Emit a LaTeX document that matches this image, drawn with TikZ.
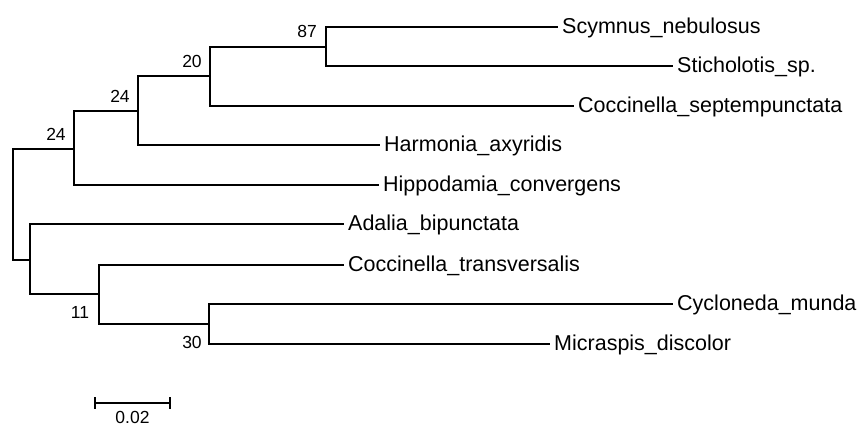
\documentclass[tikz,border=0pt]{standalone}
\usepackage{fontspec}
\setmainfont{Liberation Sans}
\usetikzlibrary{positioning, calc}

\begin{document}
\begin{tikzpicture}[
    x=1pt, y=-1pt, % one unit = one pixel, y grows downward
    branch/.style={line width=1.3pt, line cap=rect}, % tree branches
    leaf/.style={anchor=west, inner xsep=5pt, inner ysep=0pt, text height=16pt, text depth=4pt,
                 font=\fontsize{21.5}{24}\selectfont}, % taxon names
    boot/.style={inner sep=0pt, font=\fontsize{17.5}{20}\selectfont} % bootstrap values
]
    \useasboundingbox (0,0) rectangle (857,426);

    % Internal nodes (x = node depth, y = where the parent branch joins)
    \coordinate (root) at (13,204);
    \coordinate (cA) at (74,149);
    \coordinate (cB) at (138,111);
    \coordinate (cC) at (210,76);
    \coordinate (cD) at (326,47);
    \coordinate (cE) at (30,260);
    \coordinate (cF) at (99,294);
    \coordinate (cG) at (209,324);

    % Taxa
    \node[leaf] (scym)   at (557,27)  {Scymnus\_nebulosus};
    \node[leaf] (stich)  at (672,66)  {Sticholotis\_sp.};
    \node[leaf] (csep)   at (573,106) {Coccinella\_septempunctata};
    \node[leaf] (harm)   at (379,145) {Harmonia\_axyridis};
    \node[leaf] (hippo)  at (378,185) {Hippodamia\_convergens};
    \node[leaf] (adalia) at (343,224) {Adalia\_bipunctata};
    \node[leaf] (ctrans) at (343,265) {Coccinella\_transversalis};
    \node[leaf] (cyclo)  at (672,304) {Cycloneda\_munda};
    \node[leaf] (micra)  at (549,344) {Micraspis\_discolor};

    % Branches
    \draw[branch] (root) |- (cA);
    \draw[branch] (root) |- (cE);
    \draw[branch] (cA) |- (cB);
    \draw[branch] (cA) |- (hippo.west);
    \draw[branch] (cB) |- (cC);
    \draw[branch] (cB) |- (harm.west);
    \draw[branch] (cC) |- (cD);
    \draw[branch] (cC) |- (csep.west);
    \draw[branch] (cD) |- (scym.west);
    \draw[branch] (cD) |- (stich.west);
    \draw[branch] (cE) |- (adalia.west);
    \draw[branch] (cE) |- (cF);
    \draw[branch] (cF) |- (ctrans.west);
    \draw[branch] (cF) |- (cG);
    \draw[branch] (cG) |- (cyclo.west);
    \draw[branch] (cG) |- (micra.west);

    % Bootstrap values
    \node[boot] (bA) at ($(cA)+(-18,-15)$) {24};
    \node[boot] (bB) at ($(cB)+(-18,-15)$) {24};
    \node[boot] (bC) at ($(cC)+(-18,-15)$) {20};
    \node[boot] (bD) at ($(cD)+(-19,-16)$) {87};
    \node[boot] (bF) at ($(cF)+(-19,18)$) {11};
    \node[boot] (bG) at ($(cG)+(-17,18)$) {30};

    % Scale bar
    \coordinate (sbl) at (95,403);
    \coordinate (sbr) at (170,403);
    \draw[branch, line cap=butt] (sbl) -- (sbr);
    \draw[branch, line cap=butt] ($(sbl)+(0,-6)$) -- ($(sbl)+(0,6)$);
    \draw[branch, line cap=butt] ($(sbr)+(0,-6)$) -- ($(sbr)+(0,6)$);
    \node[boot, anchor=north] (sblab) at ($(sbl)!0.5!(sbr)+(0,8)$) {0.02};

\end{tikzpicture}
\end{document}
